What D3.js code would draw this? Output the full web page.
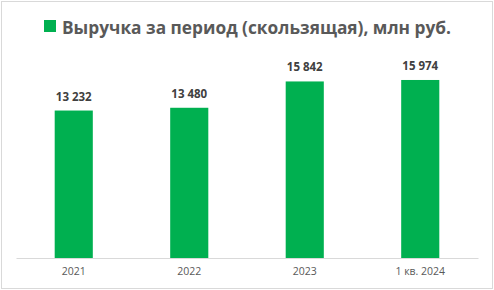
<!DOCTYPE html>
<html>
<head>
<meta charset="utf-8">
<script src="https://cdn.jsdelivr.net/npm/d3@7"></script>
<style>
  body { margin: 0; background: #fff; }
  svg { display: block; }
</style>
</head>
<body>
<svg id="chart" width="494" height="290"></svg>
<script>
// Chart data
const categories = ['2021', '2022', '2023', '1 кв. 2024'];
const revenue = [13232, 13480, 15842, 15974];
const valueLabels = ['13 232', '13 480', '15 842', '15 974'];
const title = 'Выручка за период (скользящая), млн руб.';

const width = 494, height = 290;
const svg = d3.select('#chart');
const green = '#00b050';

// Outer frame
svg.append('rect')
  .attr('x', 1.5).attr('y', 1.5)
  .attr('width', width - 3).attr('height', height - 3)
  .attr('fill', '#fff')
  .attr('stroke', '#d9d9d9');

const x = d3.scaleBand().domain(categories).range([16, 478])
  .paddingInner(0.67).paddingOuter(0.335);
const y = d3.scaleLinear().domain([0, 18000]).range([258, 57.4]);

// Bars
svg.selectAll('.bar')
  .data(revenue)
  .enter()
  .append('rect')
  .attr('x', (d, i) => x(categories[i]))
  .attr('y', d => y(d))
  .attr('width', x.bandwidth())
  .attr('height', d => y(0) - y(d))
  .attr('fill', green);

// Value labels
svg.selectAll('.val')
  .data(revenue)
  .enter()
  .append('text')
  .attr('x', (d, i) => x(categories[i]) + x.bandwidth() / 2)
  .attr('y', d => y(d) - 10)
  .attr('text-anchor', 'middle')
  .attr('font-family', 'Open Sans, sans-serif')
  .attr('font-size', 11.5)
  .attr('font-weight', 'bold')
  .attr('fill', '#404040')
  .text((d, i) => valueLabels[i]);

// X axis
const xAxis = svg.append('g')
  .attr('transform', 'translate(0,258)')
  .call(d3.axisBottom(x).tickSize(0).tickPadding(10));
xAxis.select('.domain').attr('stroke', '#d9d9d9').attr('d', 'M16.5,0.5H478.5');
xAxis.selectAll('text')
  .attr('font-family', 'Open Sans, sans-serif')
  .attr('font-size', 10.5)
  .attr('fill', '#595959');

// Title with legend key
const titleG = svg.append('g');
titleG.append('text')
  .attr('x', 62).attr('y', 34)
  .attr('font-family', 'Open Sans, sans-serif')
  .attr('font-size', 18)
  .attr('font-weight', 'bold')
  .attr('fill', '#595959')
  .attr('textLength', 389)
  .attr('lengthAdjust', 'spacingAndGlyphs')
  .text(title);
titleG.append('rect')
  .attr('x', 44).attr('y', 20)
  .attr('width', 12).attr('height', 12)
  .attr('fill', green);
</script>
</body>
</html>
